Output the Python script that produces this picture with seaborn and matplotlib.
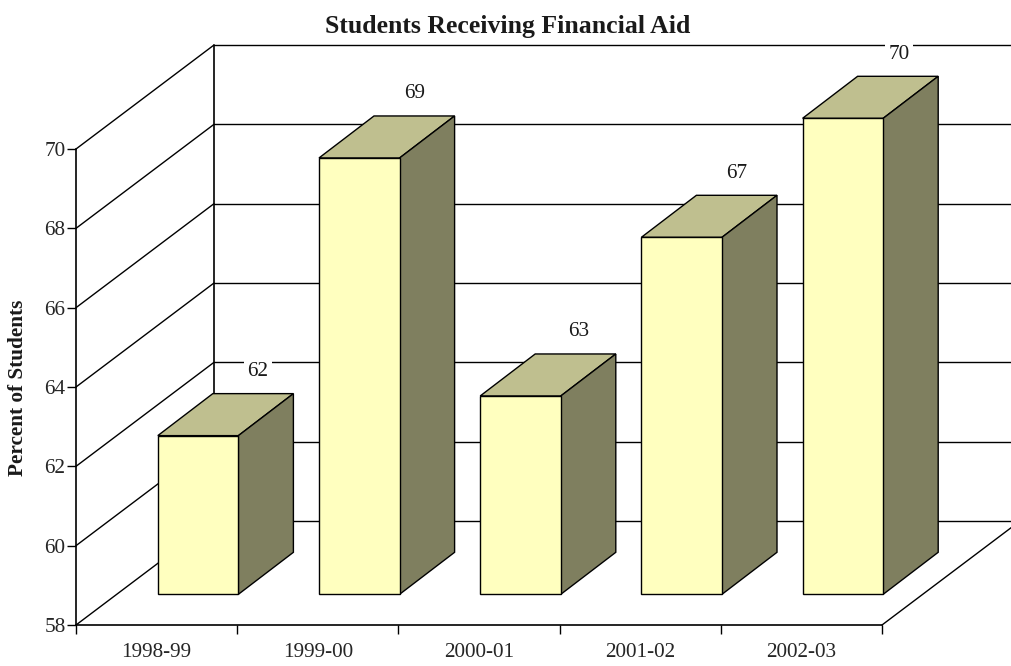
import matplotlib
matplotlib.use("Agg")
import matplotlib.pyplot as plt
import seaborn as sns
from matplotlib.patches import Polygon
from matplotlib.transforms import Affine2D

#DATOS
years = ["1998-99", "1999-00", "2000-01", "2001-02", "2002-03"]
percent = [62, 69, 63, 67, 70]
y_ticks = [58, 60, 62, 64, 66, 68, 70]

W, H = 1011, 666
FRONT = "#FFFFBF"
TOP = "#BFBF8F"
SIDE = "#7F7F5F"

# Profundidad del "3D" en pixeles
WALL_DX, WALL_DY = 138, 104
BAR_DX, BAR_DY = 41.5, 30.7
DEPTH_DX, DEPTH_DY = 55, 42
LW = 1.0

sns.set_theme(style="white")
plt.rcParams["font.family"] = ["Liberation Serif", "DejaVu Serif"]
plt.rcParams["text.color"] = "#1a1a1a"

fig = plt.figure(figsize=(W / 100, H / 100), dpi=100)
ax = fig.add_axes([76 / W, 1 - 625 / H, 806 / W, 476 / H])
ax.patch.set_alpha(0)


def shifted(dx, dy):
    return ax.transData + Affine2D().translate(dx, dy)


def diagonal(v, xpos):
    x0, y0 = ax.transData.transform((xpos, v))
    ax.add_line(plt.Line2D([x0, x0 + WALL_DX], [y0, y0 + WALL_DY], color="black",
                           lw=LW, transform=None, zorder=1, clip_on=False))


sns.barplot(x=years, y=percent, width=0.5, color=FRONT, saturation=1,
            edgecolor="black", linewidth=LW, ax=ax, zorder=5)
ax.set_ylim(y_ticks[0], y_ticks[-1])
ax.set_xlim(-0.5, len(years) - 0.5)

#Paredes y suelo
wall = shifted(WALL_DX, WALL_DY)
for v in y_ticks:
    ax.plot([-0.5, len(years) + 1], [v, v], color="black", lw=LW,
            transform=wall, clip_on=False, zorder=1)
    diagonal(v, -0.5)
ax.plot([-0.5, -0.5], [y_ticks[0], y_ticks[-1]], color="black", lw=1.2,
        transform=wall, clip_on=False, zorder=1)
diagonal(y_ticks[0], len(years) - 0.5)

#Barras: cara frontal, superior y lateral
bar_shift = shifted(BAR_DX, BAR_DY)
nudge = [2, -2, 1, -3, -1]
for i, (p, v) in enumerate(zip(ax.patches, percent)):
    p.set_y(y_ticks[0])
    p.set_height(v - y_ticks[0])
    p.set_transform(bar_shift)
    p.set_clip_on(False)
    (xl, yb) = bar_shift.transform((p.get_x(), p.get_y()))
    (xr, yt) = bar_shift.transform((p.get_x() + p.get_width(), v))
    top = [(xl, yt), (xr, yt), (xr + DEPTH_DX, yt + DEPTH_DY), (xl + DEPTH_DX, yt + DEPTH_DY)]
    side = [(xr, yb), (xr + DEPTH_DX, yb + DEPTH_DY), (xr + DEPTH_DX, yt + DEPTH_DY), (xr, yt)]
    for pts, c in [(top, TOP), (side, SIDE)]:
        ax.add_patch(Polygon(pts, closed=True, facecolor=c, edgecolor="black", lw=LW,
                             transform=None, zorder=4, clip_on=False))
    #Etiqueta del valor
    fig.text(((xl + xr) / 2 + DEPTH_DX + 2.5 + nudge[i]) / W, (yt + DEPTH_DY + 22.3) / H, str(v),
             ha="center", va="center", fontsize=15.3,
             bbox=dict(facecolor="white", edgecolor="none", pad=2.5))

#Ejes
for s in ["top", "right"]:
    ax.spines[s].set_visible(False)
for s in ["left", "bottom"]:
    ax.spines[s].set_color("black")
    ax.spines[s].set_linewidth(1.2)
    ax.spines[s].set_zorder(2)

ax.set_yticks(y_ticks)
ax.set_yticklabels([str(v) for v in y_ticks])
ax.set_xticks(range(len(years)))
ax.set_xticklabels(years)
ax.set_xticks([i - 0.5 for i in range(len(years) + 1)], minor=True)
ax.tick_params(axis="x", which="minor", direction="out", length=6.5, width=LW, color="black", bottom=True)
ax.tick_params(axis="x", which="major", length=0, pad=13, labelsize=15.3)
ax.tick_params(axis="y", direction="out", length=6.5, width=LW, color="black", left=True, pad=1, labelsize=15.3)

ax.set_xlabel("")
ax.set_ylabel("")
fig.text(18 / W, 1 - 388 / H, "Percent of Students", rotation=90, ha="center", va="center",
         fontsize=15.3, fontweight="bold")
fig.text(507.5 / W, 1 - 27 / H, "Students Receiving Financial Aid", ha="center", va="center",
         fontsize=18.5, fontweight="bold")

fig.savefig("out.png", dpi=100)
